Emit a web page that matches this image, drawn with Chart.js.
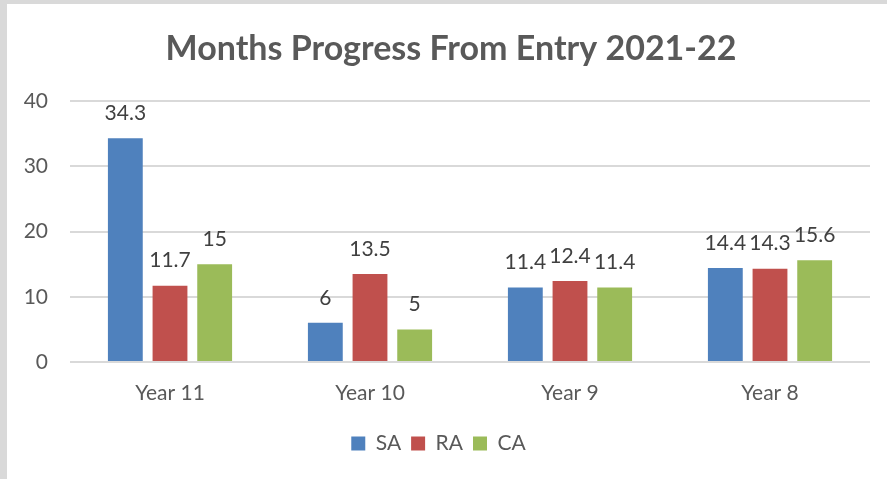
<!DOCTYPE html>
<html>
<head>
<meta charset="utf-8">
<script src="https://cdn.jsdelivr.net/npm/chart.js@4/dist/chart.umd.min.js"></script>
<style>
  html, body { margin: 0; padding: 0; background: #d9d9d9; }
  #frame { position: absolute; left: 7px; top: 4px; width: 880px; height: 475px; background: #fff; }
</style>
</head>
<body>
<div id="frame"><canvas id="chart" width="880" height="475"></canvas></div>
<script>
// data
const categories = ['Year 11', 'Year 10', 'Year 9', 'Year 8'];
const saValues = [34.3, 6, 11.4, 14.4];
const raValues = [11.7, 13.5, 12.4, 14.3];
const caValues = [15, 5, 11.4, 15.6];
const chartTitle = 'Months Progress From Entry 2021-22';

const FONT = 'Lato, "Open Sans", sans-serif';

// labels above each bar (no datalabels plugin offline)
const barValueLabels = {
    id: 'barValueLabels',
    afterDatasetsDraw(chart) {
        const ctx = chart.ctx;
        ctx.save();
        ctx.font = '21px ' + FONT;
        ctx.fillStyle = '#404040';
        ctx.textAlign = 'center';
        ctx.textBaseline = 'middle';
        chart.data.datasets.forEach((ds, i) => {
            chart.getDatasetMeta(i).data.forEach((bar, j) => {
                ctx.fillText(String(ds.data[j]), bar.x, bar.y - 25);
            });
        });
        ctx.restore();
    }
};

// title drawn by hand so it can sit a bit right of the canvas centre, like the original
const chartTitleText = {
    id: 'chartTitleText',
    afterDraw(chart) {
        const ctx = chart.ctx;
        ctx.save();
        ctx.font = 'bold 34px ' + FONT;
        ctx.fillStyle = '#595959';
        ctx.textAlign = 'center';
        ctx.textBaseline = 'middle';
        ctx.fillText(chartTitle, 444, 45);
        ctx.restore();
    }
};

new Chart(document.getElementById('chart'), {
    type: 'bar',
    data: {
        labels: categories,
        datasets: [
            { label: 'SA', data: saValues, backgroundColor: '#4F81BD' },
            { label: 'RA', data: raValues, backgroundColor: '#C0504D' },
            { label: 'CA', data: caValues, backgroundColor: '#9BBB59' }
        ]
    },
    options: {
        responsive: false,
        animation: false,
        categoryPercentage: 0.67,
        barPercentage: 0.78,
        layout: { padding: { left: 0, right: 17, top: 97, bottom: 15 } },
        plugins: {
            title: { display: false },
            legend: {
                position: 'bottom',
                labels: {
                    color: '#595959',
                    font: { family: FONT, size: 21 },
                    boxWidth: 14,
                    boxHeight: 14,
                    padding: 10
                }
            },
            tooltip: { enabled: false }
        },
        scales: {
            x: {
                grid: { display: false, drawTicks: false },
                border: { display: false },
                ticks: { color: '#595959', font: { family: FONT, size: 21 }, padding: 19 },
                afterFit(scale) { scale.height = 61; }
            },
            y: {
                min: 0,
                max: 40,
                border: { display: false },
                grid: { color: '#d9d9d9', lineWidth: 2, drawTicks: false },
                ticks: { stepSize: 10, color: '#595959', font: { family: FONT, size: 21 }, padding: 22 },
                afterFit(scale) { scale.width = 63; }
            }
        }
    },
    plugins: [barValueLabels, chartTitleText]
});
</script>
</body>
</html>
